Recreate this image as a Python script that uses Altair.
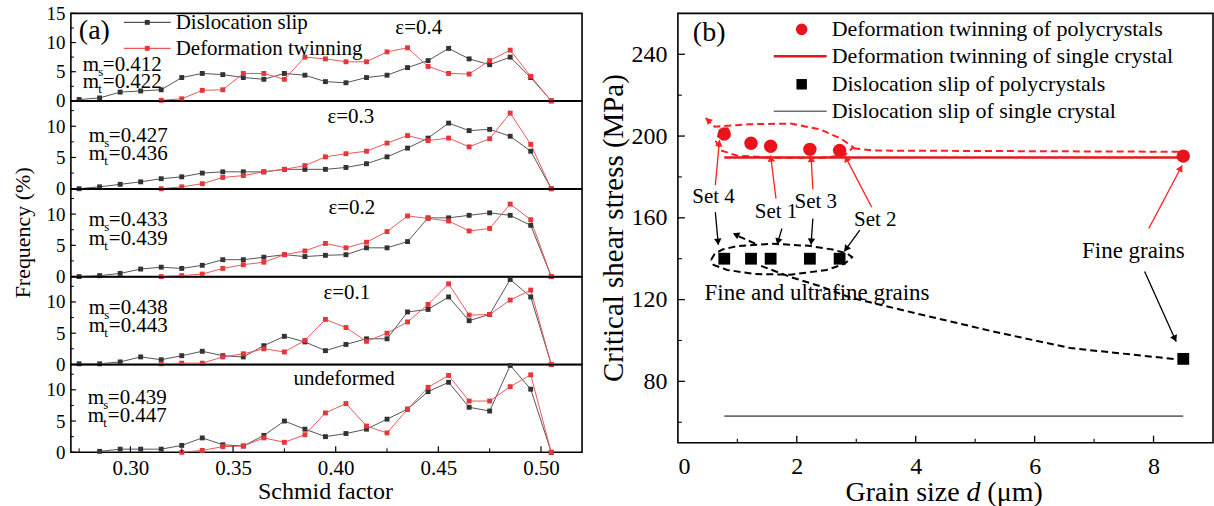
import math
import altair as alt
import pandas as pd

SERIF = "Liberation Serif"
RED = "#e8141c"
RED_LINE = "#e8585b"
RED_PT = "#e8353a"
DARK_LINE = "#555555"
DARK_PT = "#333333"

# ---------------- panel (a): Schmid factor distributions ----------------
SF = [0.275, 0.285, 0.295, 0.305, 0.315, 0.325, 0.335, 0.345, 0.355, 0.365, 0.375, 0.385,
      0.395, 0.405, 0.415, 0.425, 0.435, 0.445, 0.455, 0.465, 0.475, 0.485, 0.495, 0.505]

SLIP_04 = [0.23, 0.5, 1.5, 1.7, 1.9, 4.0, 4.7, 4.5, 4.0, 3.7, 4.7, 4.4, 3.3, 3.1, 4.0, 4.4,
           5.7, 6.9, 9.0, 7.2, 6.2, 7.5, 4.0, 0]
TWIN_04 = [0.1, 0.35, 1.8, 1.9, 4.7, 4.7, 3.7, 7.5, 7.2, 6.7, 6.7, 8.4, 9.1, 5.9, 4.7, 4.6,
           6.9, 8.7, 4.2, 0]
SLIP_03 = [0, 0.3, 0.7, 1.1, 1.6, 1.9, 2.5, 2.7, 2.7, 2.7, 3.1, 3.1, 3.1, 3.4, 4.0, 5.1,
           6.5, 8.1, 10.5, 9.3, 9.5, 8.4, 6.0, 0]
TWIN_03 = [0, 0.3, 0.8, 1.8, 2.1, 2.7, 3.1, 3.7, 5.1, 5.6, 6.0, 7.3, 8.5, 7.7, 8.1, 6.7,
           8.0, 12.1, 7.1, 0]
SLIP_02 = [0, 0.15, 0.5, 1.2, 1.5, 1.3, 1.8, 2.7, 2.7, 3.1, 3.5, 3.2, 3.4, 3.5, 4.6, 4.6,
           5.6, 9.4, 9.4, 9.8, 10.2, 9.8, 8.2, 0]
TWIN_02 = [0, 0.15, 0.4, 1.3, 1.9, 2.3, 3.5, 4.1, 5.3, 4.6, 5.5, 7.2, 9.7, 9.3, 8.9, 7.3,
           7.7, 11.6, 9.1, 0]
SLIP_01 = [0.1, 0.1, 0.4, 1.2, 0.75, 1.4, 2.1, 1.4, 1.2, 3.0, 4.5, 3.6, 2.2, 3.2, 4.1, 4.1,
           8.4, 8.8, 10.8, 7.0, 8.0, 13.6, 10.8, 0]
TWIN_01 = [0.1, 0.2, 0.2, 1.2, 1.7, 2.5, 2.0, 3.85, 7.2, 5.9, 3.7, 5.0, 6.8, 9.6, 12.9, 7.9,
           8.0, 10.3, 11.9, 0]
SLIP_00 = [0.15, 0.5, 0.5, 0.5, 1.1, 2.3, 1.2, 1.0, 2.7, 5.0, 3.7, 2.5, 3.0, 3.7, 5.3, 6.9,
           9.7, 11.2, 7.2, 6.6, 13.9, 10.1, 0]
TWIN_00 = [0, 0.3, 0.9, 1.0, 2.3, 1.6, 2.8, 6.3, 7.8, 4.2, 3.1, 6.9, 10.4, 12.3, 8.2, 8.2,
           10.5, 12.4, 0]

STRAIN_LABELS = ["ε=0.4", "ε=0.3", "ε=0.2", "ε=0.1", "undeformed"]
M_SLIP = ["0.412", "0.427", "0.433", "0.438", "0.439"]
M_TWIN = ["0.422", "0.436", "0.439", "0.443", "0.447"]

SF_TICKS = [0.30, 0.35, 0.40, 0.45, 0.50]
SF_MINOR = [0.275, 0.325, 0.375, 0.425, 0.475]

# ---------------- panel (b): critical shear stress vs grain size ----------------
GRAIN = [0.78, 1.23, 1.56, 2.22, 2.72, 8.5]
TWIN_POLY = [201.0, 196.5, 195.0, 193.5, 193.0, 190.2]
SLIP_POLY = [140.0, 140.0, 140.0, 140.0, 140.0, 91.0]
TWIN_SINGLE = 189.5
SLIP_SINGLE = 63.0
SINGLE_SPAN = [0.78, 8.5]

D_TICKS = [0, 2, 4, 6, 8]
D_MINOR = [1, 3, 5, 7]
TAU_TICKS = [80, 120, 160, 200, 240]
TAU_MINOR = [60, 100, 140, 180, 220]

W_A, H_A = 512, 87.6
XDOM_A = [0.271, 0.52]
W_B, H_B = 536, 430
XDOM_B = [0, 9]
YDOM_B = [50, 260]


def one_row():
    return pd.DataFrame({"t": [""]})


def txt(s, x, y, size, align="left", baseline="middle", angle=0, style="normal"):
    return alt.Chart(pd.DataFrame({"t": [s]})).mark_text(
        font=SERIF, fontSize=size, align=align, baseline=baseline, angle=angle,
        fontStyle=style, color="black"
    ).encode(x=alt.value(x), y=alt.value(y), text="t:N")


def anchor(x, y):
    # invisible point fixing the outer extent of a view
    return alt.Chart(one_row()).mark_square(size=1, opacity=0).encode(
        x=alt.value(x), y=alt.value(y))


def m_label(sub, val, x0, base):
    return [
        txt("m", x0, base, 21, baseline="alphabetic"),
        txt(sub, x0 + 15.5, base + 5, 13, baseline="alphabetic"),
        txt("=" + val, x0 + 20, base, 21, baseline="alphabetic"),
    ]


PANELS = [
    dict(slip=SLIP_04, s0=0, twin=TWIN_04, t0=4, ymax=15, yt=[0, 5, 10, 15],
         eps=(325, 15), m=(12, 58, 75)),
    dict(slip=SLIP_03, s0=0, twin=TWIN_03, t0=4, ymax=14, yt=[0, 5, 10],
         eps=(257, 16), m=(18, 41, 59)),
    dict(slip=SLIP_02, s0=0, twin=TWIN_02, t0=4, ymax=14, yt=[0, 5, 10],
         eps=(258, 18.5), m=(18, 37, 56)),
    dict(slip=SLIP_01, s0=0, twin=TWIN_01, t0=4, ymax=14, yt=[0, 5, 10],
         eps=(253, 16), m=(18, 37, 55)),
    dict(slip=SLIP_00, s0=1, twin=TWIN_00, t0=5, ymax=14, yt=[0, 5, 10],
         eps=(223, 14), m=(17, 39, 57)),
]


def freq_panel(i, p):
    rows = []
    for x, v in zip(SF[p["s0"]:], p["slip"]):
        rows.append({"sf": x, "freq": v, "series": "slip"})
    for x, v in zip(SF[p["t0"]:], p["twin"]):
        rows.append({"sf": x, "freq": v, "series": "twin"})
    df = pd.DataFrame(rows)
    bottom = i == len(PANELS) - 1

    xaxis = alt.Axis(values=SF_TICKS, format=".2f", labelFont=SERIF, labelFontSize=21,
                     labelColor="black", labelPadding=5, ticks=False, domain=False,
                     grid=False, title=None) if bottom else None
    X = alt.X("sf:Q", scale=alt.Scale(domain=XDOM_A, nice=False, zero=False), axis=xaxis)
    Y = alt.Y("freq:Q", scale=alt.Scale(domain=[0, p["ymax"]], nice=False, zero=False),
              axis=alt.Axis(values=p["yt"], labelFont=SERIF, labelFontSize=19,
                            labelColor="black", labelPadding=6, ticks=False,
                            domain=False, grid=False, title=None))

    lines = alt.Chart(df).mark_line(strokeWidth=1).encode(
        x=X, y=Y,
        stroke=alt.Stroke("series:N", scale=alt.Scale(domain=["slip", "twin"],
                                                      range=[DARK_LINE, RED_LINE]), legend=None))
    pts = alt.Chart(df).mark_square(size=24, opacity=1).encode(
        x=X, y=Y,
        fill=alt.Fill("series:N", scale=alt.Scale(domain=["slip", "twin"],
                                                  range=[DARK_PT, RED_PT]), legend=None))

    minor_y = [v for v in [2.5, 7.5, 12.5] if v < p["ymax"]]
    ytk = alt.Chart(pd.DataFrame({"freq": p["yt"]})).mark_rule(color="black", strokeWidth=1.2).encode(
        y=Y, x=alt.value(0), x2=alt.value(5))
    ytk_minor = alt.Chart(pd.DataFrame({"freq": minor_y})).mark_rule(color="black", strokeWidth=1).encode(
        y=Y, x=alt.value(0), x2=alt.value(3))

    layers = [lines, pts, ytk, ytk_minor]

    if bottom:
        layers.append(alt.Chart(pd.DataFrame({"sf": SF_TICKS})).mark_rule(color="black", strokeWidth=1.2)
                      .encode(x=X, y=alt.value(H_A), y2=alt.value(H_A - 6)))
        layers.append(alt.Chart(pd.DataFrame({"sf": SF_MINOR})).mark_rule(color="black", strokeWidth=1)
                      .encode(x=X, y=alt.value(H_A), y2=alt.value(H_A - 4)))
        layers.append(txt("Schmid factor", 255, 127.5, 24, align="center"))

    ex, ey = p["eps"]
    layers.append(txt(STRAIN_LABELS[i], ex, ey, 21))
    mx, b1, b2 = p["m"]
    layers += m_label("s", M_SLIP[i], mx, b1)
    layers += m_label("t", M_TWIN[i], mx, b2)

    if i == 0:
        # series key and panel tag
        layers.append(txt("(a)", 8, 18, 28))
        for yy, col, pcol, name in [(9, DARK_LINE, DARK_PT, "Dislocation slip"),
                                    (35, RED_LINE, RED_PT, "Deformation twinning")]:
            layers.append(alt.Chart(one_row()).mark_rule(color=col, strokeWidth=1.2).encode(
                x=alt.value(53), x2=alt.value(100), y=alt.value(yy)))
            layers.append(alt.Chart(one_row()).mark_square(size=24, opacity=1, color=pcol).encode(
                x=alt.value(76.5), y=alt.value(yy)))
            layers.append(txt(name, 105, yy + 0.5, 21))
        layers.append(anchor(-69.5, -11.5))
    if i == 2:
        layers.append(txt("Frequency (%)", -48, H_A / 2, 22, align="center", angle=270))

    return alt.layer(*layers).properties(width=W_A, height=H_A)


left = alt.vconcat(*[freq_panel(i, p) for i, p in enumerate(PANELS)], spacing=0, bounds="flush")

# ---------------- panel (b) ----------------
XB = alt.X("d:Q", scale=alt.Scale(domain=XDOM_B, nice=False, zero=False),
           axis=alt.Axis(values=D_TICKS, labelFont=SERIF, labelFontSize=24, labelColor="black",
                         labelPadding=12, ticks=False, domain=False, grid=False, title=None))
YB = alt.Y("tau:Q", scale=alt.Scale(domain=YDOM_B, nice=False, zero=False),
           axis=alt.Axis(values=TAU_TICKS, labelFont=SERIF, labelFontSize=24, labelColor="black",
                         labelPadding=11, ticks=False, domain=False, grid=False, title=None))

PX_D = W_B / (XDOM_B[1] - XDOM_B[0])
PX_T = H_B / (YDOM_B[1] - YDOM_B[0])

# dashed guide paths (grain size, stress)
RED_LOOP_D = [0.47, 0.62, 1.2, 1.9, 2.4, 2.75, 2.95, 2.8, 2.4, 1.6, 1.0, 0.72, 0.64, 0.7, 0.85]
RED_LOOP_T = [208.8, 204.6, 205.8, 206.1, 203.2, 198.6, 194.5, 190.6, 189.3, 189.4, 190.4,
              193.0, 197.5, 201.5, 204.0]
RED_TAIL_D = [2.95, 3.3, 8.5]
RED_TAIL_T = [194.0, 192.9, 192.3]
BLK_LOOP_D = [0.56, 0.62, 0.75, 1.0, 1.6, 2.2, 2.6, 2.85, 2.93, 2.8, 2.5, 1.9, 1.3, 0.83, 0.6, 0.56]
BLK_LOOP_T = [139.5, 142.5, 144.5, 146.2, 147.3, 146.3, 144.5, 142.5, 140.8, 137.5, 134.5,
              132.2, 132.5, 134.5, 137.0, 139.5]
BLK_TAIL_D = [1.4, 1.9, 2.4, 2.9, 4.0, 5.3, 6.6, 8.35]
BLK_TAIL_T = [136.5, 131.0, 126.5, 121.0, 113.3, 104.4, 96.3, 90.9]
BLK_STUB_D = [1.3, 0.95]
BLK_STUB_T = [147.4, 151.9]


def path_df(paths):
    rows = []
    for k, (ds, ts) in enumerate(paths):
        for j, (d, t) in enumerate(zip(ds, ts)):
            rows.append({"d": d, "tau": t, "path": k, "o": j})
    return pd.DataFrame(rows)


red_dash = alt.Chart(path_df([(RED_LOOP_D, RED_LOOP_T), (RED_TAIL_D, RED_TAIL_T)])).mark_line(
    color="#ff1f1f", strokeWidth=2, strokeDash=[7, 4]).encode(
    x=XB, y=YB, detail="path:N", order="o:Q")
blk_dash = alt.Chart(path_df([(BLK_LOOP_D, BLK_LOOP_T), (BLK_TAIL_D, BLK_TAIL_T),
                              (BLK_STUB_D, BLK_STUB_T)])).mark_line(
    color="black", strokeWidth=2, strokeDash=[7, 4]).encode(
    x=XB, y=YB, detail="path:N", order="o:Q")

single = pd.DataFrame({"d": [SINGLE_SPAN[0]], "d2": [SINGLE_SPAN[1]]})
twin_single = alt.Chart(single.assign(tau=TWIN_SINGLE)).mark_rule(color="#e31a1c", strokeWidth=2.5).encode(
    x=XB, x2="d2:Q", y=YB)
slip_single = alt.Chart(single.assign(tau=SLIP_SINGLE)).mark_rule(color="#6e6e6e", strokeWidth=1.6).encode(
    x=XB, x2="d2:Q", y=YB)

twin_pts = alt.Chart(pd.DataFrame({"d": GRAIN, "tau": TWIN_POLY})).mark_circle(
    size=180, color=RED, opacity=1).encode(x=XB, y=YB)
slip_pts = alt.Chart(pd.DataFrame({"d": GRAIN, "tau": SLIP_POLY})).mark_square(
    size=140, color="black", opacity=1).encode(x=XB, y=YB)

# annotation arrows: start (d, tau) -> tip (d2, tau2)
RED_ARROWS = [(0.63, 176.0, 0.70, 198.0), (1.65, 169.4, 1.56, 190.5), (2.27, 174.0, 2.24, 190.3),
              (3.26, 165.2, 2.81, 190.3), (7.92, 154.8, 8.48, 185.6)]
BLK_ARROWS = [(0.63, 162.8, 0.68, 146.8), (1.75, 154.8, 1.67, 147.0), (2.27, 159.6, 2.24, 146.9),
              (3.06, 154.0, 2.80, 143.6), (7.85, 133.7, 8.38, 99.5)]
# heads of the dashed guides: (tip, coming from)
RED_GUIDE_HEAD = (0.47, 208.8, 0.62, 204.6)
BLK_GUIDE_HEAD = (0.93, 152.4, 1.30, 147.4)


def heading(x0, y0, x1, y1):
    vx = (x1 - x0) * PX_D
    vy = -(y1 - y0) * PX_T
    ang = math.degrees(math.atan2(vx, -vy)) % 360
    n = math.hypot(vx, vy)
    # centre the head slightly behind the tip
    hx = x1 - 3 * vx / n / PX_D
    hy = y1 + 3 * vy / n / PX_T
    return hx, hy, ang


def arrow_layers(arrows, color, guide_head):
    df = pd.DataFrame(arrows, columns=["d", "tau", "d2", "tau2"])
    shaft = alt.Chart(df).mark_rule(color=color, strokeWidth=1.3).encode(
        x=XB, x2="d2:Q", y=YB, y2="tau2:Q")
    heads = [heading(*a) for a in arrows]
    gx, gy, gx0, gy0 = guide_head
    heads.append(heading(gx0, gy0, gx, gy))
    hdf = pd.DataFrame(heads, columns=["d", "tau", "ang"])
    head = alt.Chart(hdf).mark_point(shape="triangle-up", filled=True, size=55, opacity=1,
                                     color=color, strokeWidth=0).encode(
        x=XB, y=YB, angle=alt.Angle("ang:Q", scale=None))
    return [shaft, head]


NOTE_TEXT = ["Set 4", "Set 1", "Set 3", "Set 2", "Fine grains", "Fine and ultrafine grains"]
NOTE_D = [0.60, 1.65, 2.32, 3.32, 7.66, 2.34]
NOTE_T = [170.2, 162.9, 167.8, 158.9, 144.0, 123.1]
NOTE_SIZE = [21, 21, 21, 21, 23, 23]
notes = [alt.Chart(pd.DataFrame({"d": [d], "tau": [t], "label": [s]})).mark_text(
    font=SERIF, fontSize=sz, color="black", align="center", baseline="middle").encode(
    x=XB, y=YB, text="label:N") for s, d, t, sz in zip(NOTE_TEXT, NOTE_D, NOTE_T, NOTE_SIZE)]

LEGEND_B = ["Deformation twinning of polycrystals", "Deformation twinning of single crystal",
            "Dislocation slip of polycrystals", "Dislocation slip of single crystal"]
leg_rows = [16, 43, 71, 98]
legend_b = [
    alt.Chart(one_row()).mark_circle(size=135, color=RED, opacity=1).encode(
        x=alt.value(124), y=alt.value(leg_rows[0])),
    alt.Chart(one_row()).mark_rule(color="#e31a1c", strokeWidth=2.5).encode(
        x=alt.value(96), x2=alt.value(149), y=alt.value(leg_rows[1])),
    alt.Chart(one_row()).mark_square(size=110, color="black", opacity=1).encode(
        x=alt.value(124), y=alt.value(leg_rows[2])),
    alt.Chart(one_row()).mark_rule(color="#6e6e6e", strokeWidth=1.6).encode(
        x=alt.value(96), x2=alt.value(149), y=alt.value(leg_rows[3])),
] + [txt(s, 154, yy, 22) for s, yy in zip(LEGEND_B, leg_rows)]

ticks_b = [
    alt.Chart(pd.DataFrame({"d": D_TICKS[1:]})).mark_rule(color="black", strokeWidth=1.3).encode(
        x=XB, y=alt.value(H_B), y2=alt.value(H_B - 7)),
    alt.Chart(pd.DataFrame({"d": D_MINOR})).mark_rule(color="black", strokeWidth=1.1).encode(
        x=XB, y=alt.value(H_B), y2=alt.value(H_B - 4)),
    alt.Chart(pd.DataFrame({"tau": TAU_TICKS})).mark_rule(color="black", strokeWidth=1.3).encode(
        y=YB, x=alt.value(0), x2=alt.value(7)),
    alt.Chart(pd.DataFrame({"tau": TAU_MINOR})).mark_rule(color="black", strokeWidth=1.1).encode(
        y=YB, x=alt.value(0), x2=alt.value(4)),
]

titles_b = [
    txt("(b)", 15, 20, 28),
    txt("Critical shear stress (MPa)", -64, 215, 29, align="center", angle=270),
    txt("Grain size", 168, 480, 28),
    txt("d", 289, 480, 28, style="italic"),
    txt("(μm)", 310, 480, 28),
]

right = alt.layer(
    red_dash, blk_dash, twin_single, slip_single, twin_pts, slip_pts,
    *arrow_layers(RED_ARROWS, "#ff1f1f", RED_GUIDE_HEAD),
    *arrow_layers(BLK_ARROWS, "black", BLK_GUIDE_HEAD),
    *notes, *legend_b, *ticks_b, *titles_b,
    anchor(-93, -11.5),
).properties(width=W_B, height=H_B)

chart = alt.hconcat(left, right, spacing=0).properties(
    padding=0, background="white"
).configure_view(stroke="black", strokeWidth=1.6)

chart.save("out.html", embed_options={"renderer": "svg", "actions": False})
